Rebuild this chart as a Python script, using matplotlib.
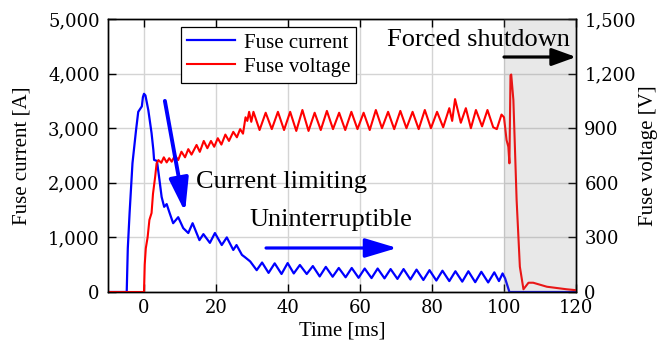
import matplotlib
matplotlib.use("Agg")
import matplotlib.pyplot as plt

# ---------------- data ----------------
time_current = [-10, -4.8, -4.5, -4.0, -3.2, -2.2, -1.6, -0.6, -0.3, 0.0, 0.4, 1.2, 2.1,
                2.6, 2.8, 3.6, 4.3, 4.9, 5.6, 6.3, 7.0, 8.1, 9.5, 10.9, 12.3, 13.5, 15.4,
                16.5, 18.3, 19.7, 21.6, 23.0, 24.8, 25.7, 27.2, 28.0, 29.5, 31.3, 32.8,
                34.6, 36.3, 38.2, 39.9, 41.6, 43.3, 45.2, 46.9, 48.8, 50.5, 52.4, 54.1,
                56.0, 57.7, 59.6, 61.3, 63.2, 64.9, 66.8, 68.5, 70.4, 72.1, 74.0, 75.7,
                77.6, 79.3, 81.2, 82.9, 84.8, 86.5, 88.4, 90.1, 92.0, 93.7, 95.6, 97.3,
                98.6, 99.6, 100.3, 101.5, 120]
fuse_current = [0, 0, 800, 1450, 2360, 2970, 3300, 3400, 3570, 3630, 3600, 3330, 2910,
                2600, 2420, 2400, 2050, 1740, 1560, 1610, 1470, 1260, 1370, 1170, 1080, 1260, 950,
                1060, 900, 1080, 860, 1000, 770, 860, 680, 640, 560, 400, 540,
                350, 525, 330, 530, 340, 495, 330, 475, 285, 460, 280, 440,
                270, 440, 260, 430, 255, 430, 250, 420, 240, 420, 230, 410,
                220, 400, 210, 390, 200, 380, 190, 380, 180, 370, 175, 360,
                200, 340, 250, 0, 0]

time_voltage = [-10, 0.0, 0.2, 0.5, 1.0, 1.5, 2.1, 2.5, 3.1, 3.5, 4.0, 4.8, 5.5, 6.3, 7.0,
                7.7, 8.6, 9.5, 10.4, 11.4, 12.3, 13.2, 14.6, 15.5, 16.6, 17.6, 18.6, 19.5,
                20.5, 21.5, 22.6, 23.6, 24.8, 25.8, 26.7, 27.5, 28.2, 28.7, 29.2, 29.8,
                30.4, 32.1, 33.8, 35.5, 37.2, 38.9, 40.6, 42.3, 44.0, 45.7, 47.4, 49.1,
                50.8, 52.5, 54.2, 55.9, 57.6, 59.3, 61.0, 62.7, 64.4, 66.1, 67.8, 69.5,
                71.2, 72.9, 74.6, 76.3, 78.0, 79.7, 81.4, 83.1, 84.8, 85.6, 86.4, 88.0,
                89.4, 90.8, 92.2, 93.9, 95.4, 97.0, 98.0, 99.3, 100.0, 100.7, 101.2, 101.5,
                101.8, 102.0, 102.6, 103.5, 104.4, 105.4, 106.8, 108.1, 111.9, 117.4, 120]
fuse_voltage = [0, 0, 150, 240, 300, 396, 434, 540, 633, 707, 725, 710, 740, 712, 735,
                716, 750, 725, 771, 740, 785, 755, 808, 770, 830, 790, 830, 798,
                845, 810, 865, 830, 880, 850, 895, 870, 960, 940, 990, 935,
                990, 890, 985, 895, 990, 890, 990, 885, 1000, 885, 985, 890,
                995, 895, 985, 890, 990, 895, 985, 890, 1000, 900, 990, 895,
                995, 900, 990, 895, 1000, 900, 990, 905, 1010, 940, 1060, 930,
                1010, 900, 1000, 910, 1000, 905, 895, 975, 960, 835, 798, 707,
                1190, 1195, 1055, 505, 139, 15, 51, 51, 29, 15, 10]

x_ticks = [0, 20, 40, 60, 80, 100, 120]
current_ticks = [0, 1000, 2000, 3000, 4000, 5000]
voltage_ticks = [0, 300, 600, 900, 1200, 1500]

# ---------------- figure ----------------
fig = plt.figure(figsize=(6.65, 3.48), dpi=100)
ax = fig.add_axes([0.1624, 0.1609, 0.7038, 0.7845])
ax2 = ax.twinx()

serif = ["Liberation Serif", "DejaVu Serif"]
tickfont = ["DejaVu Serif"]

ax.set_xlim(-10, 120)
ax.set_ylim(0, 5000)
ax2.set_ylim(0, 1500)

ax.set_xticks(x_ticks)
ax.set_yticks(current_ticks)
ax2.set_yticks(voltage_ticks)
ax.set_yticklabels([f"{v:,}" for v in current_ticks])
ax2.set_yticklabels([f"{v:,}" for v in voltage_ticks])
ax.set_xticklabels([str(v) for v in x_ticks])

ax.grid(True, color="#d4d4d4", lw=1.0, zorder=0)
ax.set_axisbelow(True)

l1, = ax.plot(time_current, fuse_current, color="#0000ff", lw=1.6, zorder=2)
l2, = ax2.plot(time_voltage, fuse_voltage, color="#ff0000", lw=1.5, zorder=2)

# shaded region (forced shutdown)
ax2.axvspan(100, 120, facecolor="#808080", alpha=0.18, edgecolor="none", zorder=3)

for a in (ax, ax2):
    a.tick_params(direction="in", length=6, width=1.0, colors="black")
    for s in a.spines.values():
        s.set_linewidth(1.0)
ax.tick_params(axis="x", top=True, pad=5)
ax.tick_params(axis="y", pad=6)
ax2.tick_params(axis="y", pad=6)

for lab in ax.get_xticklabels() + ax.get_yticklabels() + ax2.get_yticklabels():
    lab.set_fontfamily(tickfont)
    lab.set_fontsize(13)

ax.set_xlabel("Time [ms]", family=serif, fontsize=15, labelpad=3)
ax.set_ylabel("Fuse current [A]", family=serif, fontsize=15, labelpad=12)
ax2.set_ylabel("Fuse voltage [V]", family=serif, fontsize=15, labelpad=2)

# legend
leg = ax2.legend([l1, l2], ["Fuse current", "Fuse voltage"],
                 loc="upper left", bbox_to_anchor=(0.156, 0.971), borderaxespad=0,
                 prop={"family": serif, "size": 15}, fancybox=False, framealpha=1,
                 edgecolor="black", handlelength=2.3, handletextpad=0.4,
                 borderpad=0.3, labelspacing=0.2)
leg.get_frame().set_linewidth(0.9)
leg.set_zorder(10)

# annotations
ax2.annotate("", xy=(11.4, 1465 * 0.3), xytext=(5.8, 3500 * 0.3),
             arrowprops=dict(arrowstyle="-|>,head_length=1.45,head_width=0.42",
                             color="#0000ff", lw=2.8, shrinkA=0, shrinkB=0, mutation_scale=14),
             zorder=6)
ax2.text(14.4, 2015 * 0.3, "Current limiting", family=serif, fontsize=19,
         ha="left", va="center", zorder=6)

ax2.annotate("", xy=(70.3, 806 * 0.3), xytext=(33.9, 806 * 0.3),
             arrowprops=dict(arrowstyle="-|>,head_length=1.4,head_width=0.42",
                             color="#0000ff", lw=2.3, shrinkA=0, shrinkB=0, mutation_scale=14),
             zorder=6)
ax2.text(29.4, 1319 * 0.3, "Uninterruptible", family=serif, fontsize=19,
         ha="left", va="center", zorder=6)

ax2.annotate("", xy=(120, 4304 * 0.3), xytext=(100, 4304 * 0.3),
             arrowprops=dict(arrowstyle="-|>,head_length=1.05,head_width=0.38",
                             color="black", lw=2.3, shrinkA=0, shrinkB=0, mutation_scale=14),
             zorder=6, annotation_clip=False)
ax2.text(118.3, 4615 * 0.3, "Forced shutdown", family=serif, fontsize=19,
         ha="right", va="center", zorder=6)

fig.savefig("out.png", dpi=100)
